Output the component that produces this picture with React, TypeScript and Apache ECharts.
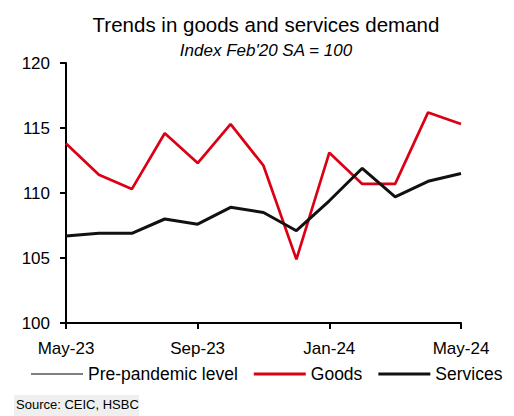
import React, { useEffect, useRef } from "react";
import * as echarts from "echarts";

const months = [
  "May-23", "Jun-23", "Jul-23", "Aug-23", "Sep-23", "Oct-23", "Nov-23",
  "Dec-23", "Jan-24", "Feb-24", "Mar-24", "Apr-24", "May-24",
];
const goods = [113.8, 111.4, 110.3, 114.6, 112.3, 115.3, 112.1, 104.9, 113.1, 110.7, 110.7, 116.2, 115.3];
const services = [106.7, 106.9, 106.9, 108.0, 107.6, 108.9, 108.5, 107.1, 109.4, 111.9, 109.7, 110.9, 111.5];
const prePandemic = months.map(() => 100);

const titleText = "Trends in goods and services demand";
const subtitleText = "Index Feb'20 SA = 100";
const sourceText = "Source: CEIC, HSBC";

const FONT = "'Liberation Sans', Arial, Helvetica, sans-serif";

export default function App() {
  const ref = useRef<HTMLDivElement>(null);
  useEffect(() => {
    if (!ref.current) return;
    const chart = echarts.init(ref.current, null, { renderer: "svg" });
    chart.setOption({
      animation: false,
      backgroundColor: "#ffffff",
      textStyle: { fontFamily: FONT, color: "#000" },
      title: [
        {
          text: titleText,
          left: 261,
          textAlign: "center",
          top: 9,
          textStyle: { fontFamily: FONT, fontSize: 20.5, fontWeight: "normal", color: "#000" },
        },
        {
          text: subtitleText,
          left: 261,
          textAlign: "center",
          top: 37,
          textStyle: { fontFamily: FONT, fontSize: 17, fontStyle: "italic", fontWeight: "normal", color: "#000" },
        },
      ],
      grid: { left: 66, right: 53, top: 63, bottom: 93, containLabel: false },
      legend: {
        left: 31,
        top: 365,
        padding: 0,
        itemWidth: 52,
        itemHeight: 14,
        itemGap: 16,
        symbolKeepAspect: true,
        textStyle: { fontFamily: FONT, fontSize: 17.5, color: "#000", padding: [0, 0, 0, 0] },
        itemStyle: { borderWidth: 0 },
        lineStyle: { width: 0 },
        data: [
          { name: "Pre-pandemic level", icon: "path://M0,0h52v1h-52z" },
          { name: "Goods", icon: "path://M0,0h52v2.8h-52z" },
          { name: "Services", icon: "path://M0,0h52v3.2h-52z" },
        ],
      },
      xAxis: {
        type: "category",
        data: months,
        boundaryGap: false,
        axisLine: { lineStyle: { color: "#000", width: 2 } },
        axisTick: { show: true, interval: 3, length: 6, inside: false, lineStyle: { color: "#000", width: 2 } },
        axisLabel: { interval: 3, margin: 17, fontFamily: FONT, fontSize: 17, color: "#000" },
        splitLine: { show: false },
      },
      yAxis: {
        type: "value",
        min: 100,
        max: 120,
        interval: 5,
        axisLine: { show: true, lineStyle: { color: "#000", width: 2 } },
        axisTick: { show: true, length: 6, lineStyle: { color: "#000", width: 2 } },
        axisLabel: { margin: 16, fontFamily: FONT, fontSize: 17, color: "#000" },
        splitLine: { show: false },
      },
      series: [
        {
          name: "Pre-pandemic level",
          type: "line",
          data: prePandemic,
          symbol: "none",
          lineStyle: { color: "#000", width: 1 },
          itemStyle: { color: "#000" },
          z: 1,
        },
        {
          name: "Goods",
          type: "line",
          data: goods,
          symbol: "none",
          lineStyle: { color: "#dc0015", width: 2.7 },
          itemStyle: { color: "#dc0015" },
          z: 3,
        },
        {
          name: "Services",
          type: "line",
          data: services,
          symbol: "none",
          lineStyle: { color: "#111", width: 3 },
          itemStyle: { color: "#111" },
          z: 4,
        },
      ],
      graphic: [
        {
          type: "rect",
          left: 14,
          top: 395,
          shape: { width: 125, height: 21 },
          style: { fill: "#efefef" },
          silent: true,
        },
        {
          type: "text",
          left: 16,
          top: 398,
          style: { text: sourceText, font: `13px ${FONT}`, fill: "#000" },
          silent: true,
        },
      ],
    });
    return () => chart.dispose();
  }, []);
  return (
    <div
      ref={ref}
      style={{ position: "fixed", left: 0, top: 0, width: 514, height: 416, background: "#fff" }}
    />
  );
}
